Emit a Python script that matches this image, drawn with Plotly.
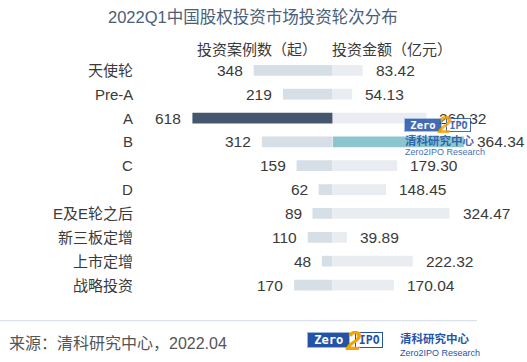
import plotly.graph_objects as go

categories = ["天使轮", "Pre-A", "A", "B", "C", "D", "E及E轮之后", "新三板定增", "上市定增", "战略投资"]
case_counts = [348, 219, 618, 312, 159, 62, 89, 110, 48, 170]
amounts = [83.42, 54.13, 260.32, 364.34, 179.30, 148.45, 324.47, 39.89, 222.32, 170.04]
amount_labels = ["83.42", "54.13", "260.32", "364.34", "179.30", "148.45", "324.47", "39.89", "222.32", "170.04"]
highlight_left = "A"
highlight_right = "B"

title = "2022Q1中国股权投资市场投资轮次分布"
header_left = "投资案例数（起）"
header_right = "投资金额（亿元）"
source = "来源：清科研究中心，2022.04"

W, H = 527, 362
CX = 332.7
FONT = "Liberation Sans, Arial, Noto Sans CJK SC, sans-serif"

def px(x):
    return x / W

def py(y):
    return 1 - y / H

left_colors = ["#44576e" if c == highlight_left else "#d6dee6" for c in categories]
right_colors = ["#8dc5cf" if c == highlight_right else "#e9edf1" for c in categories]

fig = go.Figure()
fig.add_trace(go.Bar(y=categories, x=case_counts, orientation="h", xaxis="x", yaxis="y",
                     marker=dict(color=left_colors, line=dict(width=0)), hoverinfo="skip"))
fig.add_trace(go.Bar(y=categories, x=amounts, orientation="h", xaxis="x2", yaxis="y",
                     marker=dict(color=right_colors, line=dict(width=0)), hoverinfo="skip"))

ann = []
txtcol = "#3a3a3a"
for c, v in zip(categories, case_counts):
    ann.append(dict(xref="x", yref="y", x=v, y=c, text=str(v), showarrow=False,
                    xanchor="right", xshift=-9, font=dict(size=15.5, color=txtcol, family=FONT)))
for c, v, t in zip(categories, amounts, amount_labels):
    ann.append(dict(xref="x2", yref="y", x=v, y=c, text=t, showarrow=False,
                    xanchor="left", xshift=11, font=dict(size=15.5, color=txtcol, family=FONT)))
for c in categories:
    ann.append(dict(xref="paper", yref="y", x=px(135), y=c, text=c, showarrow=False,
                    xanchor="right", font=dict(size=15, color=txtcol, family=FONT)))

ann.append(dict(xref="paper", yref="paper", x=px(253), y=py(17), text=title, showarrow=False,
                xanchor="center", yanchor="middle", font=dict(size=16.5, color="#4a6078", family=FONT)))
ann.append(dict(xref="paper", yref="paper", x=px(319), y=py(50), text=header_left, showarrow=False,
                xanchor="right", yanchor="middle", font=dict(size=15, color=txtcol, family=FONT)))
ann.append(dict(xref="paper", yref="paper", x=px(330), y=py(50), text=header_right, showarrow=False,
                xanchor="left", yanchor="middle", font=dict(size=15, color=txtcol, family=FONT)))
ann.append(dict(xref="paper", yref="paper", x=px(7), y=py(343), text=source, showarrow=False,
                xanchor="left", yanchor="middle", font=dict(size=16, color="#555555", family=FONT)))

BLUE = "#2453a6"
ORANGE = "#f5a300"

def logo(x0, ytop, scale, opacity):
    h = 12 * scale
    ann.append(dict(xref="paper", yref="paper", x=px(x0), y=py(ytop), xanchor="left", yanchor="top",
                    text="<b>Zero</b>", showarrow=False, bgcolor=BLUE, bordercolor="#9fb6dc", borderwidth=1,
                    width=36 * scale, height=h, borderpad=0, opacity=opacity,
                    font=dict(size=10.5 * scale, color="white", family="DejaVu Sans Mono")))
    ann.append(dict(xref="paper", yref="paper", x=px(x0 + 42 * scale), y=py(ytop), xanchor="left", yanchor="top",
                    text="<b>IPO</b>", showarrow=False, bgcolor="white", bordercolor=BLUE, borderwidth=1,
                    width=23 * scale, height=h, borderpad=0, opacity=opacity,
                    font=dict(size=10 * scale, color=BLUE, family="DejaVu Sans Mono")))
    ann.append(dict(xref="paper", yref="paper", x=px(x0 + 40 * scale), y=py(ytop + 7 * scale),
                    xanchor="center", yanchor="middle", text="<b><i>2</i></b>", showarrow=False,
                    opacity=opacity, font=dict(size=24 * scale, color=ORANGE, family="Liberation Sans")))

logo(404, 118, 1.0, 0.85)
ann.append(dict(xref="paper", yref="paper", x=px(403), y=py(140), xanchor="left", yanchor="middle",
                text="<b>清科研究中心</b>", showarrow=False, opacity=0.85,
                font=dict(size=11.5, color="#1f55a8", family="Noto Sans CJK SC")))
ann.append(dict(xref="paper", yref="paper", x=px(403), y=py(152), xanchor="left", yanchor="middle",
                text="Zero2IPO Research", showarrow=False, opacity=0.85,
                font=dict(size=9, color="#1f55a8", family="Liberation Sans")))

logo(307, 332, 1.15, 1.0)
ann.append(dict(xref="paper", yref="paper", x=px(398), y=py(338), xanchor="left", yanchor="middle",
                text="<b>清科研究中心</b>", showarrow=False,
                font=dict(size=11.5, color="#1f55a8", family="Noto Sans CJK SC")))
ann.append(dict(xref="paper", yref="paper", x=px(398), y=py(353), xanchor="left", yanchor="middle",
                text="Zero2IPO Research", showarrow=False,
                font=dict(size=9, color="#1f55a8", family="Liberation Sans")))

row_top = 70.3 - 23.86 / 2
row_bot = 70.3 + 23.86 * 9 + 23.86 / 2

fig.update_layout(
    width=W, height=H,
    margin=dict(l=0, r=0, t=0, b=0),
    paper_bgcolor="white", plot_bgcolor="white",
    showlegend=False,
    bargap=0.55,
    xaxis=dict(domain=[0, CX / W], range=[CX / 0.227, 0], showgrid=False, zeroline=False,
               showticklabels=False, showline=False, fixedrange=True),
    xaxis2=dict(domain=[CX / W, 1], range=[0, (W - CX) / 0.36], showgrid=False, zeroline=False,
                showticklabels=False, showline=False, anchor="y", fixedrange=True),
    yaxis=dict(domain=[py(row_bot), py(row_top)], range=[len(categories) - 0.5, -0.5],
               showgrid=False, zeroline=False, showticklabels=False, showline=False, fixedrange=True),
    annotations=ann,
    shapes=[dict(type="line", xref="paper", yref="paper", x0=0, x1=px(477), y0=py(320.7), y1=py(320.7),
                 line=dict(color="#d3dbe3", width=1))],
)

fig.write_html("out.html", config={"displayModeBar": False},
               post_script="document.body.style.margin='0';document.body.style.overflow='hidden';")
